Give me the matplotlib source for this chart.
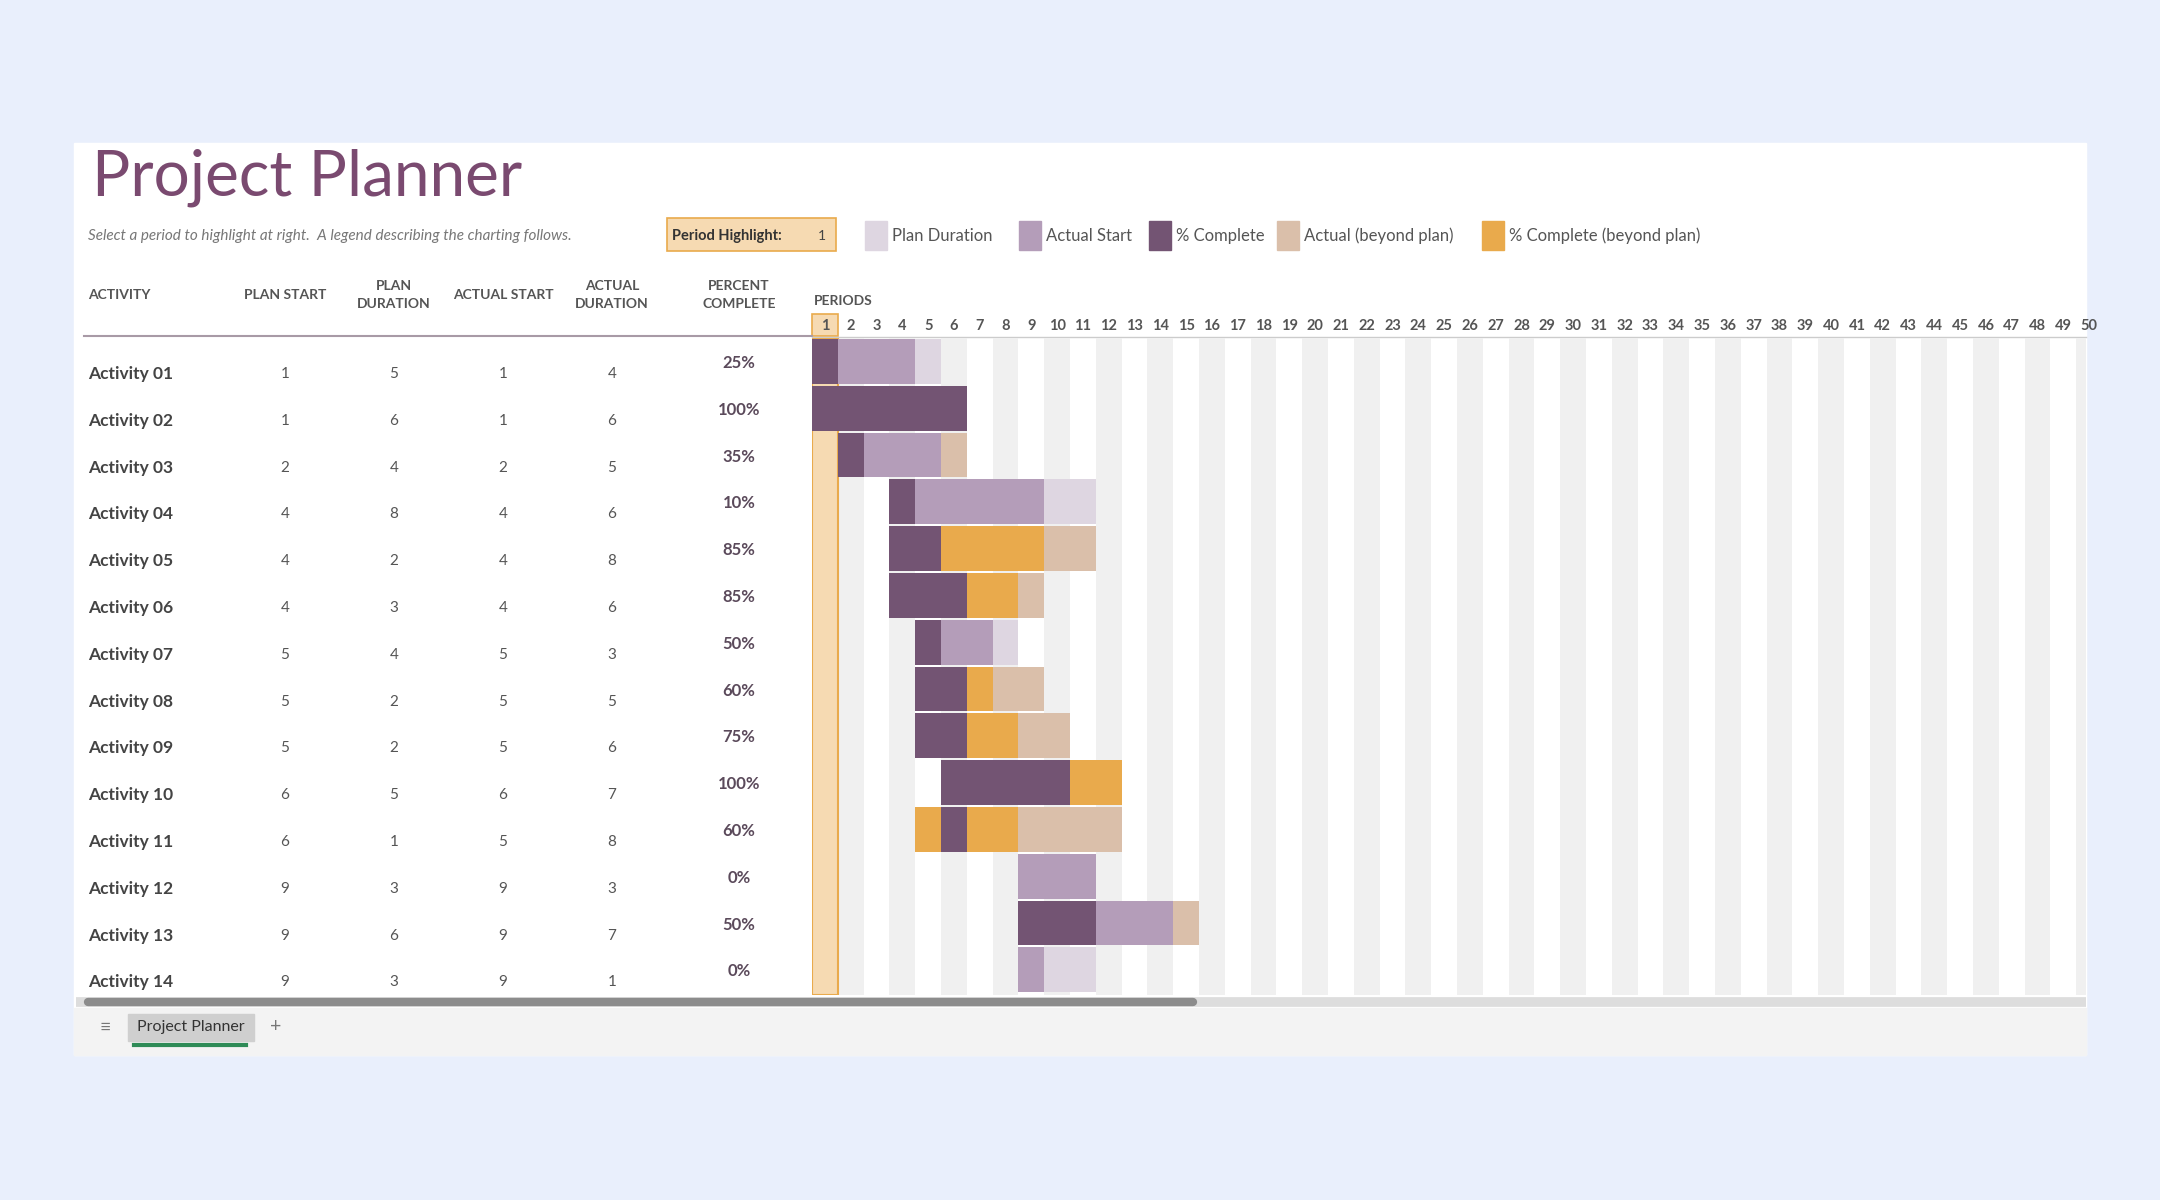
import numpy as np
import matplotlib
matplotlib.use('Agg')
import matplotlib.pyplot as plt
from matplotlib.patches import Rectangle

plt.rcParams['font.family'] = ['Lato', 'DejaVu Sans']

# ---- data read from the sheet
activities = ['Activity %02d' % i for i in range(1, 15)]
plan_start = [1, 1, 2, 4, 4, 4, 5, 5, 5, 6, 6, 9, 9, 9]
plan_dur = [5, 6, 4, 8, 2, 3, 4, 2, 2, 5, 1, 3, 6, 3]
actual_start = [1, 1, 2, 4, 4, 4, 5, 5, 5, 6, 5, 9, 9, 9]
actual_dur = [4, 6, 5, 6, 8, 6, 3, 5, 6, 7, 8, 3, 7, 1]
pct = [25, 100, 35, 10, 85, 85, 50, 60, 75, 100, 60, 0, 50, 0]
periods = list(range(1, 51))
highlight = 1

c_plan = '#DED6E1'
c_actual = '#B49DB9'
c_done = '#735473'
c_beyond = '#DABFAA'
c_done_beyond = '#E9AA4C'
c_hl = '#F6DAB2'
c_hl_edge = '#E9AA4C'
c_txt = '#444444'
c_head = '#555555'

W, H = 2160, 1200
fig = plt.figure(figsize=(W / 100, H / 100), dpi=100)
fig.patch.set_facecolor('#E9EFFC')

bg = fig.add_axes([0, 0, 1, 1])
bg.set_xlim(0, W)
bg.set_ylim(H, 0)
bg.axis('off')
bg.add_patch(Rectangle((74, 143), 2012, 912, color='white', zorder=0))
bg.add_patch(Rectangle((74, 1008), 2012, 47, color='#F3F3F3', zorder=0))

# title / subtitle
bg.text(92, 178, 'Project Planner', fontsize=46, color='#7A4A70', va='center', ha='left')
bg.text(88, 236, 'Select a period to highlight at right.  A legend describing the charting follows.',
        fontsize=11, style='italic', color='#777777', va='center')

# period highlight box
bg.add_patch(Rectangle((667, 218), 169, 33, facecolor=c_hl, edgecolor=c_hl_edge, lw=1.2))
bg.text(672, 236, 'Period Highlight:', fontsize=10.5, weight='bold', color='#333333', va='center')
bg.text(826, 236, str(highlight), fontsize=10, color='#444444', va='center', ha='right')

# legend
legend = [('Plan Duration', c_plan, 865), ('Actual Start', c_actual, 1019),
          ('% Complete', c_done, 1149), ('Actual (beyond plan)', c_beyond, 1277),
          ('% Complete (beyond plan)', c_done_beyond, 1482)]
for lab, col, x in legend:
    bg.add_patch(Rectangle((x, 221), 22, 29, color=col))
    bg.text(x + 27, 236, lab, fontsize=12, color='#555555', va='center')

# column headers
cols_x = [285, 394, 503, 612, 739]
bg.text(88, 295, 'ACTIVITY', fontsize=10, weight='bold', color=c_head, va='center')
heads = ['PLAN START', 'PLAN\nDURATION', 'ACTUAL START', 'ACTUAL\nDURATION', 'PERCENT\nCOMPLETE']
for x, h in zip(cols_x, heads):
    bg.text(x, 295, h, fontsize=10, weight='bold', color=c_head, va='center', ha='center',
            linespacing=1.7)
bg.text(814, 301, 'PERIODS', fontsize=10, weight='bold', color=c_head, va='center')
bg.plot([84, 812], [336, 336], color='#A89AA6', lw=1.5)

row_top, row_h = 338, 46.8
for i, a in enumerate(activities):
    y = row_top + row_h * (i + 0.6) + 8
    bg.text(88, y, a, fontsize=12.5, weight='bold', color=c_txt, va='center')
    vals = [plan_start[i], plan_dur[i], actual_start[i], actual_dur[i]]
    for x, v in zip(cols_x[:4], vals):
        bg.text(x, y, str(v), fontsize=11, color='#555555', va='center', ha='center')
    bg.text(cols_x[4], y - 11, '%d%%' % pct[i], fontsize=12, weight='bold', color='#5B4A5B',
            va='center', ha='center')

# ---- gantt axes
x0, x1 = 812, 2086
cw = 25.8
y0, y1 = 338, 995
gx = fig.add_axes([x0 / W, 1 - y1 / H, (x1 - x0) / W, (y1 - y0) / H])
gx.set_xlim(1, 1 + (x1 - x0) / cw)
nrow = (y1 - y0) / row_h
gx.set_ylim(nrow, 0)
gx.axis('off')

for p in periods:
    if p % 2 == 0:
        gx.add_patch(Rectangle((p, 0), 1, nrow, color='#F0F0F0', lw=0, zorder=0))
gx.add_patch(Rectangle((highlight, 0), 1, nrow, facecolor=c_hl, edgecolor=c_hl_edge, lw=1.5, zorder=1))

for i in range(len(activities)):
    ps, pe = plan_start[i], plan_start[i] + plan_dur[i]
    a_s, ae = actual_start[i], actual_start[i] + actual_dur[i]
    nd = int(actual_dur[i] * pct[i] / 100)
    if pct[i] > 0:
        nd = max(nd, 1)
    de = a_s + nd
    for p in periods:
        in_plan = ps <= p < pe
        col = None
        if a_s <= p < de:
            col = c_done if in_plan else c_done_beyond
        elif a_s <= p < ae:
            col = c_actual if in_plan else c_beyond
        elif in_plan:
            col = c_plan
        if col:
            gx.add_patch(Rectangle((p, i + 0.02), 1, 0.96, color=col, lw=0, zorder=2))

# period numbers
for p in periods:
    xp = x0 + (p - 0.5) * cw
    if xp - 8 > x1:
        break
    if p == highlight:
        bg.add_patch(Rectangle((x0, 314), cw, 22, facecolor=c_hl, edgecolor=c_hl_edge, lw=1.2))
    t = bg.text(xp, 326, str(p), fontsize=10.5, weight='bold', color=c_head, ha='center', va='center')
    t.set_clip_path(Rectangle((x0, 300), x1 - x0, 40, transform=bg.transData))
bg.plot([812, 2086], [337, 337], color='#CCCCCC', lw=1)

# bottom sheet bar
bg.plot([76, 2086], [1002, 1002], color='#DDDDDD', lw=7, solid_capstyle='butt')
bg.plot([88, 1193], [1002, 1002], color='#8C8C8C', lw=6, solid_capstyle='round')
bg.text(105, 1027, '\u2261', fontsize=14, color='#777777', ha='center', va='center')
bg.add_patch(Rectangle((128, 1014), 126, 27, color='#CFCFCF'))
bg.text(191, 1027, 'Project Planner', fontsize=11.5, color='#333333', ha='center', va='center')
bg.plot([134, 246], [1045, 1045], color='#2E8B57', lw=3)
bg.text(276, 1027, '+', fontsize=14, color='#777777', ha='center', va='center')

fig.savefig('out.png', dpi=100, facecolor=fig.get_facecolor())
